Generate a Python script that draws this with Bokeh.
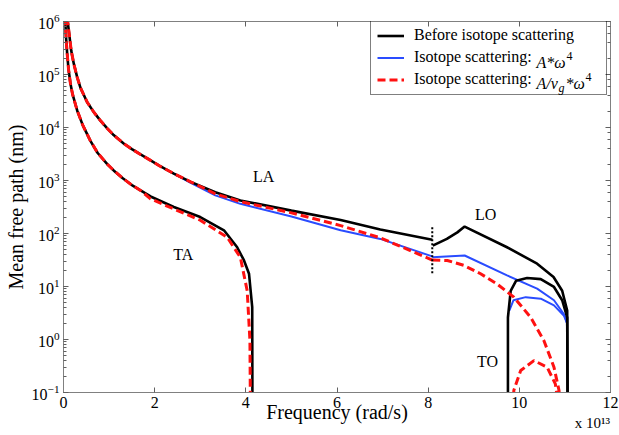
from bokeh.plotting import figure
from bokeh.models import (Range1d, LinearAxis, LogAxis, LogTicker, FixedTicker, Legend,
                          LegendItem, Label, CustomJSTickFormatter)
from bokeh.embed import file_html
from bokeh.resources import INLINE

# frequency in units of 1e13 rad/s ; mean free path in nm
x_ticks = [0, 2, 4, 6, 8, 10, 12]
x_multiplier = "x 10¹³"

la_before_f = [0.08, 0.12, 0.17, 0.226, 0.30, 0.373, 0.52, 0.665, 0.81, 0.96, 1.1, 1.32, 1.5, 1.69, 1.91,
               2.1, 2.42, 2.79, 3.33, 3.88, 5.0, 6.08, 6.95, 8.09]
la_before_mfp = [1.2e6, 6.3e5, 2.8e5, 1.6e5, 8.9e4, 5.6e4, 3.0e4, 1.95e4, 1.35e4, 9.6e3, 7.2e3, 5.0e3, 3.9e3, 3.1e3, 2.4e3,
                 1.9e3, 1.35e3, 9.4e2, 6.0e2, 4.2e2, 2.7e2, 1.8e2, 1.19e2, 76]

la_blue_f = [2.42, 2.79, 3.33, 3.88, 5.0, 6.08, 6.95, 8.09]
la_blue_mfp = [1.35e3, 9.0e2, 5.25e2, 3.63e2, 2.1e2, 1.15e2, 79, 37]

la_red_f = [0.08, 0.12, 0.17, 0.226, 0.30, 0.373, 0.52, 0.665, 0.81, 0.96, 1.1, 1.32, 1.5, 1.69, 1.91,
            2.1, 2.42, 2.79, 3.33, 3.88, 5.0, 6.08, 6.95, 8.09]
la_red_mfp = [1.2e6, 6.3e5, 2.8e5, 1.6e5, 8.9e4, 5.6e4, 3.0e4, 1.95e4, 1.35e4, 9.6e3, 7.2e3, 5.0e3, 3.9e3, 3.1e3, 2.4e3,
              1.9e3, 1.35e3, 9.4e2, 5.6e2, 4.0e2, 2.45e2, 1.41e2, 83, 31.6]

ta_before_f = [0.035, 0.06, 0.081, 0.11, 0.154, 0.20, 0.30, 0.42, 0.59, 0.75, 0.96, 1.1, 1.30, 1.5, 1.69, 1.91,
               2.42, 3.0, 3.52, 3.81, 3.96, 4.07, 4.14, 4.145]
ta_before_mfp = [1.2e6, 4.4e5, 2.45e5, 1.26e5, 6.6e4, 4.2e4, 2.1e4, 1.12e4, 5.6e3, 3.3e3, 2.04e3, 1.55e3, 1.1e3, 8.2e2,
                 6.5e2, 5.0e2, 3.16e2, 2.04e2, 1.15e2, 55, 31, 17.4, 4.1, 0.05]

ta_red_f = [0.035, 0.06, 0.081, 0.11, 0.154, 0.20, 0.30, 0.42, 0.59, 0.75, 0.96, 1.1, 1.30, 1.5, 1.69, 1.91,
            2.42, 3.0, 3.59, 3.88, 4.03, 4.09, 4.10]
ta_red_mfp = [1.2e6, 4.4e5, 2.45e5, 1.26e5, 6.6e4, 4.2e4, 2.1e4, 1.12e4, 5.6e3, 3.3e3, 2.04e3, 1.55e3, 1.1e3, 8.2e2,
              6.5e2, 4.5e2, 2.9e2, 1.78e2, 85, 35.5, 8.3, 0.95, 0.05]

lo_before_f = [8.1, 8.41, 8.64, 8.8, 9.73, 10.39, 10.75, 10.94, 11.05, 11.06]
lo_before_mfp = [59, 79, 105, 135, 55, 27, 15.1, 8.3, 3.5, 0.05]

to_before_f = [9.75, 9.75, 9.81, 9.93, 10.17, 10.47, 10.76, 10.94, 11.05, 11.06]
to_before_mfp = [0.05, 2.6, 8.3, 12.9, 14.5, 13.8, 9.8, 5.5, 2.6, 0.05]

lo_blue_f = [8.09, 8.8, 9.73, 10.39, 10.76, 10.98, 11.05]
lo_blue_mfp = [35.5, 38.5, 16.2, 9.1, 5.5, 3.0, 2.0]

to_blue_f = [9.78, 9.87, 10.14, 10.47, 10.76, 10.98, 11.05]
to_blue_mfp = [3.5, 5.5, 6.3, 5.9, 4.4, 2.8, 2.0]

lo_red_f = [8.09, 8.42, 8.78, 9.15, 9.51, 9.88, 10.25, 10.54, 10.76, 10.87, 10.91]
lo_red_mfp = [31.6, 30.9, 25.1, 17.4, 11.2, 6.3, 2.6, 0.95, 0.30, 0.11, 0.05]

to_red_f = [9.85, 9.88, 10.03, 10.32, 10.61, 10.79, 10.87]
to_red_mfp = [0.05, 0.11, 0.26, 0.40, 0.30, 0.145, 0.05]

split_f = [8.09, 8.09]
split_mfp = [131, 17.6]

branch_names = ["LA", "TA", "LO", "TO"]
branch_f = [4.39, 2.63, 9.26, 9.30]
branch_mfp = [1190, 40, 230, 0.385]

SERIF = "Liberation Serif"
BLACK = "#000000"
BLUE = "#2a4cff"
RED = "#ff1111"

p = figure(width=619, height=435, output_backend="svg", toolbar_location=None,
           x_range=Range1d(0, 12), y_range=Range1d(0.1, 1e6), y_axis_type="log",
           min_border_left=63, min_border_right=9, min_border_top=21, min_border_bottom=43)
p.xgrid.grid_line_color = None
p.ygrid.grid_line_color = None
p.outline_line_color = "#808080"
p.background_fill_color = "white"
p.border_fill_color = "white"

# blue (hidden below others where identical)
r_blue = p.line(la_blue_f, la_blue_mfp, line_color=BLUE, line_width=2)
p.line(lo_blue_f, lo_blue_mfp, line_color=BLUE, line_width=2)
p.line(to_blue_f, to_blue_mfp, line_color=BLUE, line_width=2)

# black
r_black = p.line(la_before_f, la_before_mfp, line_color=BLACK, line_width=2.6)
p.line(ta_before_f, ta_before_mfp, line_color=BLACK, line_width=2.6)
p.line(lo_before_f, lo_before_mfp, line_color=BLACK, line_width=2.6)
p.line(to_before_f, to_before_mfp, line_color=BLACK, line_width=2.6)

# red dashed
r_red = p.line(la_red_f, la_red_mfp, line_color=RED, line_width=3, line_dash="8 4")
p.line(ta_red_f, ta_red_mfp, line_color=RED, line_width=3, line_dash="8 4")
p.line(lo_red_f, lo_red_mfp, line_color=RED, line_width=3, line_dash="8 4")
p.line(to_red_f, to_red_mfp, line_color=RED, line_width=3, line_dash="8 4")

# dotted separator
p.line(split_f, split_mfp, line_color=BLACK, line_width=2, line_dash="2 2")

for name, fx, my in zip(branch_names, branch_f, branch_mfp):
    p.add_layout(Label(x=fx, y=my, text=name, text_align="center", text_baseline="middle",
                       text_font=SERIF, text_font_size="16px", text_color="black"))

# axes
xa = p.xaxis[0]
ya = p.yaxis[0]
xa.ticker = FixedTicker(ticks=x_ticks)
ya.axis_label = "Mean free path (nm)"

# second bottom axis: carries the multiplier and the axis title
xb = LinearAxis(ticker=FixedTicker(ticks=[11.6]), major_label_overrides={11.6: x_multiplier},
                axis_label="Frequency (rad/s)")
p.add_layout(xb, "below")

top = LinearAxis(ticker=FixedTicker(ticks=x_ticks), formatter=CustomJSTickFormatter(code="return ''"))
right = LogAxis(ticker=LogTicker(), formatter=CustomJSTickFormatter(code="return ''"))
p.add_layout(top, "above")
p.add_layout(right, "right")

for ax in [xa, ya, top, right, xb]:
    ax.axis_line_color = "#808080"
    ax.major_tick_line_color = "#606060"
    ax.minor_tick_line_color = "#606060"
    ax.major_tick_in = 5
    ax.major_tick_out = 0
    ax.minor_tick_in = 3
    ax.minor_tick_out = 0
    ax.major_label_text_font = SERIF
    ax.major_label_text_font_size = "16px"
    ax.major_label_text_color = "black"
    ax.axis_label_text_font = SERIF
    ax.axis_label_text_font_size = "20px"
    ax.axis_label_text_font_style = "normal"
    ax.axis_label_text_color = "black"
for ax in [xa, top, xb]:
    ax.minor_tick_line_color = None
for ax in [top, right]:
    ax.major_label_standoff = 0
xb.axis_line_color = None
xb.major_tick_line_color = None
xb.major_tick_in = 0
xb.major_label_text_font_size = "15px"
xb.major_label_standoff = 4
xb.axis_label_standoff = -33
xa.major_label_standoff = 4
ya.major_label_standoff = 4
ya.axis_label_standoff = 2

legend = Legend(items=[LegendItem(label="Before isotope scattering", renderers=[r_black]),
                       LegendItem(label="Isotope scattering:", renderers=[r_blue]),
                       LegendItem(label="Isotope scattering:", renderers=[r_red])],
                location=(307, 297), padding=6, spacing=4, margin=0,
                glyph_width=27, glyph_height=17, label_height=17, label_width=186,
                label_standoff=10, border_line_color="black", border_line_width=1,
                background_fill_alpha=0.0,
                label_text_font=SERIF, label_text_font_size="16px", label_text_color="black")
p.add_layout(legend)

# math parts of the legend labels (screen units, relative to frame bottom-left)
def mlabel(x, y, text, size="16px", style="italic"):
    p.add_layout(Label(x=x, y=y, x_units="screen", y_units="screen", text=text,
                       text_font=SERIF, text_font_size=size, text_font_style=style,
                       text_baseline="alphabetic", text_color="black"))

row2_base = 330
row3_base = 309
mx = 536 - 63
mlabel(mx, row2_base, "A*ω")
mlabel(mx + 30, row2_base + 7, "4", size="12px", style="normal")
mlabel(mx, row3_base, "A/v")
mlabel(mx + 22, row3_base - 4, "g", size="12px", style="italic")
mlabel(mx + 29, row3_base, "*ω")
mlabel(mx + 49, row3_base + 7, "4", size="12px", style="normal")

open("out.html", "w").write(file_html(p, INLINE))
